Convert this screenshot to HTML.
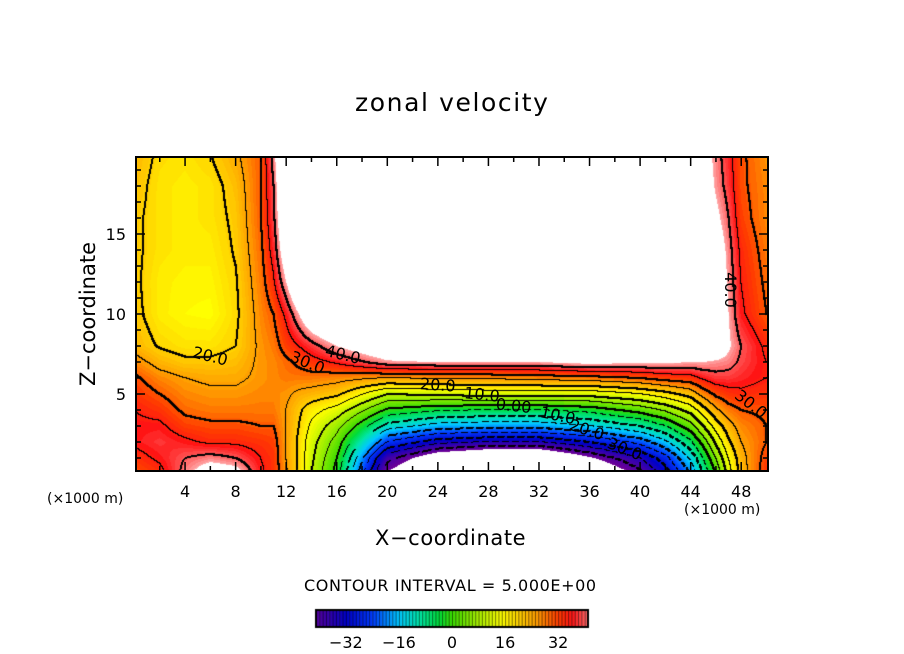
<!DOCTYPE html>
<html><head><meta charset="utf-8"><style>
body{margin:0;background:#fff;width:904px;height:654px;overflow:hidden;font-family:"DejaVu Sans","Liberation Sans",sans-serif}
#wrap{position:relative;width:904px;height:654px}
.t{position:absolute;white-space:nowrap;color:#000}
canvas,svg{position:absolute;left:0;top:0}
</style></head><body>
<div id="wrap">
<canvas id="cv" width="904" height="654"></canvas>
<svg id="ov" width="904" height="654"></svg>
<div class="t" style="left:355px;top:88px;font-size:25px;letter-spacing:1.6px">zonal velocity</div>
<div class="t" style="left:8px;top:302px;font-size:21px;transform:rotate(-90deg);transform-origin:80px 12px;width:160px;text-align:center">Z−coordinate</div>
<div class="t" style="left:375px;top:526px;font-size:21px;letter-spacing:0.6px">X−coordinate</div>
<div class="t" style="left:47px;top:491px;font-size:14px">(×1000 m)</div>
<div class="t" style="left:684px;top:502px;font-size:14px">(×1000 m)</div>
<div class="t" style="left:304px;top:576px;font-size:16px;letter-spacing:0.6px">CONTOUR INTERVAL = 5.000E+00</div>
</div>
<script>
const xGrid=[0,2,4,6,8,10,11,12,13,14,16,20,24,28,32,36,40,42,44,45,46,47,48,50];
const zGrid=[0,1,2,3,4,5,6,7,8,10,12,14,16,18,20];
const W=60;
const uRows=[
[30,33,42,50,48,36,33,26,19,10,-2,-45,-58,-60,-62,-55,-42,-33,-20,-10,0,12,22,33],
[33,36,40,42,40,35,33,25,19,11,0,-38,-50,-55,-55,-45,-35,-27,-14,-5,5,15,23,32],
[36,38,36,34,34,33,32,25,19,12,3,-25,-33,-35,-35,-30,-23,-16,-6,2,11,19,25,30],
[36,36,32,31,31,30,30,25,20,14,7,-12,-17,-18,-18,-15,-10,-5,3,10,17,23,27,30],
[35,33,29,28,28,28,28,25,21,17,13,-1,-4,-5,-5,-3,2,6,12,18,24,28,30,31],
[33,30,27,26,26,27,27,26,24,23,21,10,11,12,12,12,15,18,22,27,31,33,34,33],
[31,27,25,24,24,26,27,28,28,28,27,25,26,26,27,28,30,32,33,36,38,38,37,35],
[27,23,21,21,22,26,27,29,31,33,36,43,44,44,44,46,45,45,44,44,43,42,39,35],
[23,19.5,18,18,20,26,28,32,35,38,44,52,W,W,W,W,W,58,55,55,52,45,40,34],
[21.5,17,15.5,15,19,27,30,36,44,52,W,W,W,W,W,W,W,W,W,W,54,44,36,30],
[21,17,16,16,19.5,28,34,44,55,W,W,W,W,W,W,W,W,W,W,W,52,43,35,29],
[21,18,17,17,20.5,29,37,50,W,W,W,W,W,W,W,W,W,W,W,W,50,42,34,28],
[21,18,17,18,21,30,39,54,W,W,W,W,W,W,W,W,W,W,W,55,46,40,32,27],
[22,18,17,18,22,30,40,56,W,W,W,W,W,W,W,W,W,W,W,50,43,38,31,27],
[23,19,18,20,24,30,42,58,W,W,W,W,W,W,W,W,W,W,W,48,42,37,31,26]];
const xTicks=[4,8,12,16,20,24,28,32,36,40,44,48];
const zTicks=[5,10,15];
const cbTicks=[-32,-16,0,16,32];
const contourLabels=[["20.0",6,7.4,14],["30.0",13.7,7.0,22],["40.0",16.5,7.5,14],["20.0",24,5.6,4],["10.0",27.5,5.0,6],["0.00",30,4.3,6],["10.0",33.5,3.7,12],["20.0",35.8,2.8,18],["30.0",38.8,1.6,22],["40.0",47.2,11.5,90],["30.0",48.8,4.4,38]];
const stops=[[-44,110,0,150],[-38,60,0,170],[-32,0,0,200],[-24,0,60,255],[-16,0,200,255],[-10,0,230,170],[-4,0,220,60],[0,60,220,0],[8,170,240,0],[15,255,255,0],[20,255,210,0],[26,255,150,0],[32,255,60,0],[36,255,20,20],[40,255,90,90],[44,255,170,170]];
const X0=136,X1=768,Y0=157,Y1=471;
const sx=x=>134.5+x*12.64, sz=z=>474-z*16;
const ix=px=>(px-134.5)/12.64, iz=py=>(474-py)/16;
function seg(a,v){let i=0;while(i<a.length-2&&v>a[i+1])i++;let t=(v-a[i])/(a[i+1]-a[i]);return [i,Math.max(0,Math.min(1,t))];}
function field(x,z){const [i,tx]=seg(xGrid,x),[j,tz]=seg(zGrid,z);
const a=uRows[j][i],b=uRows[j][i+1],c=uRows[j+1][i],d=uRows[j+1][i+1];
return (a*(1-tx)+b*tx)*(1-tz)+(c*(1-tx)+d*tx)*tz;}
function color(v){if(v<=stops[0][0])return stops[0].slice(1);for(let k=0;k<stops.length-1;k++){const s=stops[k],e=stops[k+1];if(v<=e[0]){const t=(v-s[0])/(e[0]-s[0]);return [s[1]+(e[1]-s[1])*t,s[2]+(e[2]-s[2])*t,s[3]+(e[3]-s[3])*t];}}return stops[stops.length-1].slice(1);}
const cv=document.getElementById('cv'),ctx=cv.getContext('2d');
const w=X1-X0,h=Y1-Y0;const img=ctx.createImageData(w,h);
const F=[];for(let py=0;py<h;py++){F[py]=[];for(let px=0;px<w;px++)F[py][px]=field(ix(X0+px+0.5),iz(Y0+py+0.5));}
for(let py=0;py<h;py++)for(let px=0;px<w;px++){const v=F[py][px];let r=255,g=255,b=255;
if(v>=-44&&v<=44){const q=Math.round(v);[r,g,b]=color(q);}
const o=(py*w+px)*4;img.data[o]=r;img.data[o+1]=g;img.data[o+2]=b;img.data[o+3]=255;}
function lev(v){return Math.floor(v/5);}
for(let py=0;py<h-1;py++)for(let px=0;px<w-1;px++){const v=F[py][px];
const nbs=[F[py][px+1],F[py+1][px]];for(const n of nbs){const l1=lev(v),l2=lev(n);if(l1===l2)continue;
const L=Math.max(l1,l2)*5;if(L<-40||L>40)continue;
if(L<0&&((px+py)%10)>6)continue;
const thick=(L%10===0);const pts=thick?[[px,py],[px+1,py],[px,py+1]]:[[px,py]];
for(const [qx,qy] of pts){const o=(qy*w+qx)*4;img.data[o]=0;img.data[o+1]=0;img.data[o+2]=0;}}}
ctx.putImageData(img,X0,Y0);
const CB0=316,CB1=588,CBY=610,CBH=17,cbMin=-41,cbMax=41;
const cbx=v=>CB0+(v-cbMin)/(cbMax-cbMin)*(CB1-CB0);
for(let v=cbMin;v<cbMax;v+=1){const [r,g,b]=color(v+0.5);ctx.fillStyle=`rgb(${r|0},${g|0},${b|0})`;ctx.fillRect(cbx(v),CBY,cbx(v+1)-cbx(v)+0.5,CBH);
ctx.fillStyle='rgba(0,0,0,0.55)';ctx.fillRect(cbx(v),CBY,1,CBH);}
ctx.strokeStyle='#000';ctx.lineWidth=2;ctx.strokeRect(CB0,CBY,CB1-CB0,CBH);
const NS='http://www.w3.org/2000/svg',ov=document.getElementById('ov');
function mk(tag,attrs,name){const e=document.createElementNS(NS,tag);for(const k in attrs)e.setAttribute(k,attrs[k]);


ov.appendChild(e);return e;}
mk('rect',{x:X0,y:Y0,width:w,height:h,fill:'none',stroke:'#000','stroke-width':2},'plot-frame');
for(let x=1;x<50;x++){const L=(x%4===0)?9:(x%2===0?5:0);if(!L)continue;const px=sx(x);
mk('line',{x1:px,y1:Y1,x2:px,y2:Y1-L,stroke:'#000','stroke-width':1.5},'x-tick');
mk('line',{x1:px,y1:Y0,x2:px,y2:Y0+L,stroke:'#000','stroke-width':1.5},'x-tick-top');}
for(let z=1;z<20;z++){const L=(z%5===0)?9:5;const py=sz(z);
mk('line',{x1:X0,y1:py,x2:X0+L,y2:py,stroke:'#000','stroke-width':1.5},'z-tick');
mk('line',{x1:X1,y1:py,x2:X1-L,y2:py,stroke:'#000','stroke-width':1.5},'z-tick-right');}
const fs='font-family:DejaVu Sans,Liberation Sans,sans-serif';
xTicks.forEach(x=>{const t=mk('text',{x:sx(x),y:497,'text-anchor':'middle','font-size':16,style:fs},'x-tick-label');t.textContent=x;});
zTicks.forEach(z=>{const t=mk('text',{x:126,y:sz(z)+6,'text-anchor':'end','font-size':16,style:fs},'z-tick-label');t.textContent=z;});
cbTicks.forEach(v=>{const t=mk('text',{x:cbx(v),y:648,'text-anchor':'middle','font-size':16,style:fs},'colorbar-tick-label');t.textContent=(v<0?'−'+(-v):v);});
contourLabels.forEach(([s,x,z,r])=>{const px=sx(x),py=sz(z);const t=mk('text',{x:px,y:py+6,'text-anchor':'middle','font-size':16,style:fs,transform:`rotate(${r} ${px} ${py})`},'contour-label');t.textContent=s;});
</script>
</body></html>
